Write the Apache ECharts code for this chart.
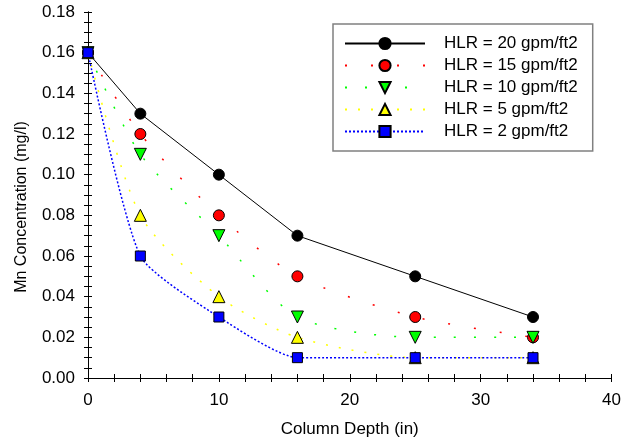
<!DOCTYPE html>
<html>
<head>
<meta charset="utf-8">
<script src="https://cdn.jsdelivr.net/npm/echarts@6/dist/echarts.min.js"></script>
<style>
  html, body { margin: 0; padding: 0; background: #fff; }
  #chart { width: 624px; height: 448px; }
</style>
</head>
<body>
<div id="chart"></div>
<script>
var depth = [0, 4, 10, 16, 25, 34];
var hlr20 = [0.16, 0.13, 0.10, 0.07, 0.05, 0.03];
var hlr15 = [0.16, 0.12, 0.08, 0.05, 0.03, 0.02];
var hlr10 = [0.16, 0.11, 0.07, 0.03, 0.02, 0.02];
var hlr5 = [0.16, 0.08, 0.04, 0.02, 0.01, 0.01];
var hlr2 = [0.16, 0.06, 0.03, 0.01, 0.01, 0.01];
var names = ['HLR = 20 gpm/ft2', 'HLR = 15 gpm/ft2', 'HLR = 10 gpm/ft2', 'HLR = 5 gpm/ft2', 'HLR = 2 gpm/ft2'];

var font = '"Liberation Sans", Arial, sans-serif';

function pairs(ys) {
  var out = [];
  for (var i = 0; i < depth.length; i++) out.push([depth[i], ys[i]]);
  return out;
}

function makeSeries(name, ys, color, symbol, size, dash, width, smooth) {
  return {
    name: name,
    type: 'line',
    data: pairs(ys),
    smooth: smooth,
    symbol: symbol,
    symbolSize: size,
    lineStyle: { color: color, width: width, type: dash },
    itemStyle: { color: color, borderColor: '#000', borderWidth: 1 },
    emphasis: { disabled: true },
    z: 3
  };
}

var chart = echarts.init(document.getElementById('chart'));

var s10 = makeSeries(names[2], hlr10, '#00ff00', 'triangle', 12, [2, 18], 1.5, 0.25);
s10.symbolRotate = 180;

var black = { color: '#000', width: 1 };

// extra axes that only carry inward ticks (and the top/right frame)
function tickAxis(kind, pos) {
  var isX = kind === 'x';
  return {
    type: 'value',
    position: pos,
    min: 0,
    max: isX ? 40 : 0.18,
    interval: isX ? 10 : 0.02,
    axisLine: { show: pos === 'top' || pos === 'right', lineStyle: black },
    axisTick: { show: true, inside: true, length: 4, lineStyle: black },
    minorTick: { show: true, splitNumber: isX ? 5 : 4, length: 4, lineStyle: black },
    axisLabel: { show: false },
    splitLine: { show: false }
  };
}

var option = {
  animation: false,
  backgroundColor: '#fff',
  grid: { left: 88, right: 11, top: 12, bottom: 70 },
  legend: {
    orient: 'vertical',
    left: 333,
    top: 24,
    padding: [11, 15, 11, 11],
    itemWidth: 80,
    itemHeight: 14,
    itemGap: 5,
    borderColor: '#808080',
    borderWidth: 1.5,
    backgroundColor: '#fff',
    formatter: function (name) { return '{g|}' + name; },
    textStyle: {
      fontFamily: font, fontSize: 17, color: '#000',
      rich: { g: { width: 14 } }
    },
    data: names
  },
  xAxis: [{
    type: 'value',
    position: 'bottom',
    min: 0, max: 40, interval: 10,
    name: 'Column Depth (in)',
    nameLocation: 'middle',
    nameGap: 43,
    nameTextStyle: { fontFamily: font, fontSize: 17, color: '#000' },
    axisLine: { show: true, lineStyle: black },
    axisTick: { show: true, length: 4, lineStyle: black },
    minorTick: { show: false },
    axisLabel: { fontFamily: font, fontSize: 17, color: '#000', margin: 14 },
    splitLine: { show: false }
  }, tickAxis('x', 'bottom'), tickAxis('x', 'top')],
  yAxis: [{
    type: 'value',
    position: 'left',
    min: 0, max: 0.18, interval: 0.02,
    name: 'Mn Concentration (mg/l)',
    nameLocation: 'middle',
    nameGap: 58,
    nameTextStyle: { fontFamily: font, fontSize: 16, color: '#000', padding: [0, 24, 0, 0] },
    axisLine: { show: true, lineStyle: black },
    axisTick: { show: true, length: 4, lineStyle: black },
    minorTick: { show: false },
    axisLabel: {
      fontFamily: font, fontSize: 17, color: '#000', margin: 13,
      formatter: function (v) { return v.toFixed(2); }
    },
    splitLine: { show: false }
  }, tickAxis('y', 'left'), tickAxis('y', 'right')],
  series: [
    makeSeries(names[0], hlr20, '#000000', 'circle', 11, 'solid', 1, false),
    makeSeries(names[1], hlr15, '#ff0000', 'circle', 11, [2, 24], 1.5, 0.25),
    s10,
    makeSeries(names[3], hlr5, '#ffff00', 'triangle', 12, [2, 11], 1.5, 0.25),
    makeSeries(names[4], hlr2, '#0000ff', 'rect', 10, [2, 2], 1.5, 0.2)
  ]
};

chart.setOption(option);
</script>
</body>
</html>
